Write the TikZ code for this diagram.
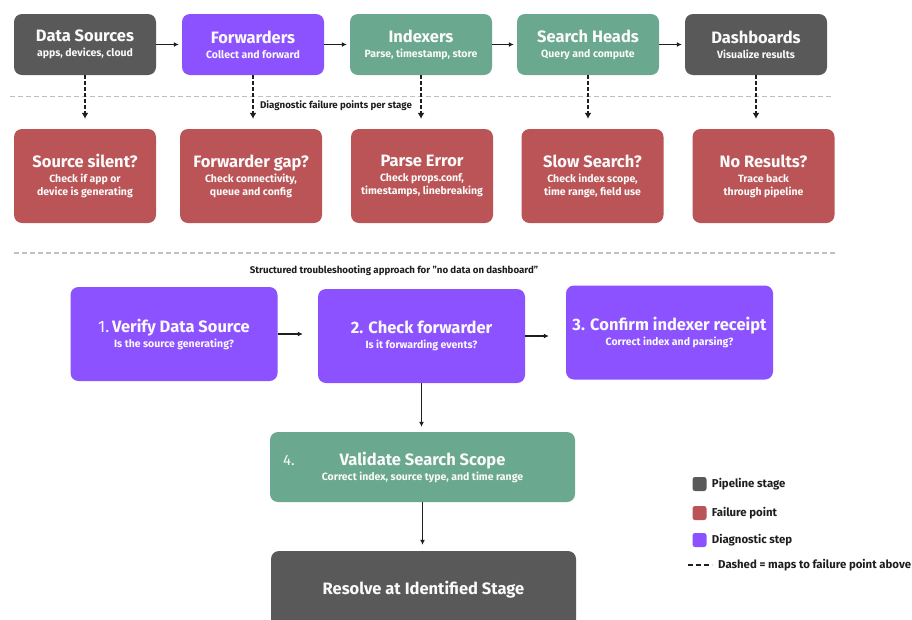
\documentclass[tikz,border=0pt]{standalone}
\usepackage{fontspec}
\setmainfont{Fira Sans}
\usetikzlibrary{arrows.meta,positioning,calc}
\definecolor{stageGray}{RGB}{89, 89, 89}
\definecolor{stepPurple}{RGB}{140, 82, 255}
\definecolor{indexGreen}{RGB}{106, 168, 144}
\definecolor{failRed}{RGB}{187, 84, 86}
\definecolor{ruleGray}{RGB}{192, 192, 192}
\definecolor{inkWhite}{RGB}{250, 250, 250}
\definecolor{inkDark}{RGB}{30, 30, 30}
\newcommand{\boxtitle}[1]{{\fontsize{16.5pt}{19pt}\selectfont #1}}
\newcommand{\boxsub}[1]{{\fontsize{10.5pt}{13pt}\selectfont #1}}

\begin{document}
\begin{tikzpicture}[x=1pt, y=-1pt,
    box/.style={rounded corners=8pt, inner sep=0pt, align=center, text=inkWhite,
        font=\fontsize{10.5pt}{13pt}\selectfont\bfseries},
    stage/.style={box, minimum width=142pt, minimum height=61pt},
    fail/.style={box, fill=failRed, minimum width=142pt, minimum height=94pt},
    stepbox/.style={box, fill=stepPurple, minimum width=207pt, minimum height=94pt},
    wide/.style={box, minimum width=305pt, minimum height=70pt},
    flow/.style={-{Latex[length=5pt, width=5pt]}, line width=1.6pt, inkDark},
    maparrow/.style={-{Latex[length=6pt, width=7pt]}, line width=2pt, inkDark,
        dash pattern=on 4pt off 2pt},
    sep/.style={ruleGray, line width=1.2pt, dash pattern=on 5pt off 3pt},
    note/.style={text=inkDark, font=\fontsize{9.7pt}{11pt}\selectfont\bfseries},
    key/.style={rounded corners=2.5pt, minimum size=14pt, inner sep=0pt},
    keylbl/.style={text=inkDark, inner sep=0pt, font=\fontsize{11.4pt}{13pt}\selectfont\bfseries}]
  \useasboundingbox[fill=white] (0,0) rectangle (912,619);

  % pipeline stages
  \node[stage, fill=stageGray] (src) at (85,44.5) {\boxtitle{Data Sources}\\[2pt]\boxsub{apps, devices, cloud}};
  \node[stage, fill=stepPurple] (fwd) at (253,44.5) {\boxtitle{Forwarders}\\[2pt]\boxsub{Collect and forward}};
  \node[stage, fill=indexGreen] (idx) at (421,44.5) {\boxtitle{Indexers}\\[2pt]\boxsub{Parse, timestamp, store}};
  \node[stage, fill=indexGreen] (srch) at (588,44.5) {\boxtitle{Search Heads}\\[2pt]\boxsub{Query and compute}};
  \node[stage, fill=stageGray] (dboard) at (756,44.5) {\boxtitle{Dashboards}\\[2pt]\boxsub{Visualize results}};

  \draw[flow, shorten >=3pt] (src) -- (fwd);
  \draw[flow, shorten >=3pt] (fwd) -- (idx);
  \draw[flow, shorten >=3pt] (idx) -- (srch);
  \draw[flow, shorten >=3pt] (srch) -- (dboard);

  \draw[sep] (10,96.5) -- (833,96.5);
  \node[note] (diaglbl) at (336,106) {Diagnostic failure points per stage};

  % failure points
  \node[fail] (fsrc) at (85,176) {\boxtitle{Source silent?}\\[2pt]\boxsub{Check if app or}\\\boxsub{device is generating}};
  \node[fail] (ffwd) at (251,176) {\boxtitle{Forwarder gap?}\\[2pt]\boxsub{Check connectivity,}\\\boxsub{queue and config}};
  \node[fail] (fidx) at (422,176) {\boxtitle{Parse Error}\\[2pt]\boxsub{Check props.conf,}\\\boxsub{timestamps, linebreaking}};
  \node[fail] (fsrch) at (592.5,176) {\boxtitle{Slow Search?}\\[2pt]\boxsub{Check index scope,}\\\boxsub{time range, field use}};
  \node[fail] (fdboard) at (763.5,176) {\boxtitle{No Results?}\\[2pt]\boxsub{Trace back}\\\boxsub{through pipeline}};

  \draw[maparrow, shorten >=10pt] (src.south) -- (src.south |- fsrc.north);
  \draw[maparrow, shorten >=10pt] (fwd.south) -- (fwd.south |- ffwd.north);
  \draw[maparrow, shorten >=10pt] (idx.south) -- (idx.south |- fidx.north);
  \draw[maparrow, shorten >=10pt] (srch.south) -- (srch.south |- fsrch.north);
  \draw[maparrow, shorten >=10pt] (dboard.south) -- (dboard.south |- fdboard.north);

  \draw[sep] (14,253) -- (836,253);
  \node[note] (approachlbl) at (394,271) {Structured troubleshooting approach for "no data on dashboard"};

  % diagnostic steps
  \node[stepbox] (s1) at (174,334) {\boxtitle{{\mdseries 1.}\,Verify Data Source}\\[2pt]\boxsub{Is the source generating?}};
  \node[stepbox] (s2) at (421.5,336) {\boxtitle{2. Check forwarder}\\[2pt]\boxsub{Is it forwarding events?}};
  \node[stepbox] (s3) at (669.5,332.5) {\boxtitle{3. Confirm indexer receipt}\\[2pt]\boxsub{Correct index and parsing?}};
  \node[wide, fill=indexGreen] (s4) at (422.5,467) {\boxtitle{Validate Search Scope}\\[2pt]\boxsub{Correct index, source type, and time range}};
  \node[text=inkWhite, font=\fontsize{15pt}{17pt}\selectfont] (num4) at (289,460) {4.};
  \node[wide, fill=stageGray, minimum height=78pt] (res) at (423.5,590) {\boxtitle{Resolve at Identified Stage}};

  \draw[flow, shorten >=15pt] (s1.east) -- (s2.west |- s1.east);
  \draw[flow, shorten >=17pt] (s2.east) -- (s3.west |- s2.east);
  \draw[flow, shorten >=5pt] (s2.south) -- (s2.south |- s4.north);
  \draw[flow, shorten >=6pt] (s4.south) -- (s4.south |- res.north);

  % legend
  \node[key, fill=stageGray] (kstage) at (699.5,484) {};
  \node[key, fill=failRed] (kfail) at (699.5,513) {};
  \node[key, fill=stepPurple] (kstep) at (699.5,540) {};
  \node[keylbl, right=5pt of kstage] (kstagelbl) {Pipeline stage};
  \node[keylbl, right=5pt of kfail] (kfaillbl) {Failure point};
  \node[keylbl, right=5pt of kstep] (ksteplbl) {Diagnostic step};
  \coordinate (kdasha) at (688,565);
  \coordinate (kdashb) at (712,565);
  \draw[line width=1.8pt, inkDark, dash pattern=on 5pt off 3pt] (kdasha) -- (kdashb);
  \node[keylbl, anchor=west] (kdashlbl) at (718,565) {Dashed = maps to failure point above};
\end{tikzpicture}
\end{document}
